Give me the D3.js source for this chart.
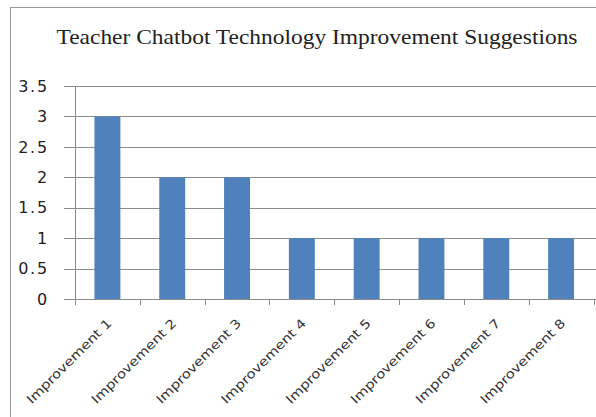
<!DOCTYPE html>
<html>
<head>
<meta charset="utf-8">
<script src="https://cdn.jsdelivr.net/npm/d3@7"></script>
<style>
  body { margin: 0; background: #fff; }
  svg { display: block; }
</style>
</head>
<body>
<svg id="chart" width="596" height="417"></svg>
<script>
var categories = ['Improvement 1', 'Improvement 2', 'Improvement 3', 'Improvement 4',
    'Improvement 5', 'Improvement 6', 'Improvement 7', 'Improvement 8'];
var values = [3, 2, 2, 1, 1, 1, 1, 1];
var yTicks = [0, 0.5, 1, 1.5, 2, 2.5, 3, 3.5];
var yTickLabels = ['0', '0.5', '1', '1.5', '2', '2.5', '3', '3.5'];
var title = 'Teacher Chatbot Technology Improvement Suggestions';

var svg = d3.select('#chart');

// chart frame (runs off the right and bottom edges)
svg.append('rect')
    .attr('x', 10.5)
    .attr('y', 7.5)
    .attr('width', 640)
    .attr('height', 440)
    .attr('fill', '#fff')
    .attr('stroke', '#9a9a9a');

var x = d3.scaleBand()
    .domain(categories)
    .range([75, 593.5])
    .paddingInner(0.6)
    .paddingOuter(0.3);

var xTicks = d3.scaleLinear()
    .domain([0, categories.length])
    .range([75, 593.5]);

var y = d3.scaleLinear()
    .domain([0, 3.5])
    .range([299, 86]);

// gridlines with left tick stubs
svg.append('g')
    .selectAll('line')
    .data(yTicks)
    .enter()
    .append('line')
    .attr('x1', 64)
    .attr('x2', 596)
    .attr('y1', function(d) { return Math.round(y(d)) + 0.5; })
    .attr('y2', function(d) { return Math.round(y(d)) + 0.5; })
    .attr('stroke', '#8c8c8c')
    .attr('stroke-width', 1);

// y labels
svg.append('g')
    .selectAll('text')
    .data(yTicks)
    .enter()
    .append('text')
    .attr('x', 49)
    .attr('y', function(d) { return y(d); })
    .attr('dy', '0.36em')
    .attr('text-anchor', 'end')
    .attr('font-family', 'DejaVu Sans, sans-serif')
    .attr('font-size', 16)
    .attr('letter-spacing', 1.8)
    .attr('fill', '#222')
    .text(function(d, i) { return yTickLabels[i]; });

// bars
svg.append('g')
    .selectAll('rect')
    .data(values)
    .enter()
    .append('rect')
    .attr('x', function(d, i) { return x(categories[i]); })
    .attr('y', function(d) { return y(d); })
    .attr('width', x.bandwidth())
    .attr('height', function(d) { return y(0) - y(d); })
    .attr('fill', '#4f81bd');

// y axis line
svg.append('line')
    .attr('x1', 75.5)
    .attr('x2', 75.5)
    .attr('y1', y(3.5))
    .attr('y2', y(0))
    .attr('stroke', '#8c8c8c');

// x axis ticks
svg.append('g')
    .selectAll('line')
    .data(d3.range(categories.length + 1))
    .enter()
    .append('line')
    .attr('x1', function(d) { return Math.round(xTicks(d)) + 0.5; })
    .attr('x2', function(d) { return Math.round(xTicks(d)) + 0.5; })
    .attr('y1', y(0))
    .attr('y2', y(0) + 6)
    .attr('stroke', '#8c8c8c');

// category labels
svg.append('g')
    .selectAll('text')
    .data(categories)
    .enter()
    .append('text')
    .attr('transform', function(d) {
        var cx = x(d) + x.bandwidth() / 2 + 5;
        return 'translate(' + cx + ',' + 324 + ') rotate(-45)';
    })
    .attr('text-anchor', 'end')
    .attr('font-family', 'DejaVu Sans, sans-serif')
    .attr('font-size', 12.5)
    .attr('textLength', 114)
    .attr('lengthAdjust', 'spacingAndGlyphs')
    .attr('fill', '#333')
    .text(function(d) { return d; });

// title
svg.append('text')
    .attr('x', 317)
    .attr('y', 44)
    .attr('text-anchor', 'middle')
    .attr('font-family', 'Liberation Serif, serif')
    .attr('font-size', 21.5)
    .attr('textLength', 521)
    .attr('lengthAdjust', 'spacingAndGlyphs')
    .attr('fill', '#222')
    .text(title);
</script>
</body>
</html>
